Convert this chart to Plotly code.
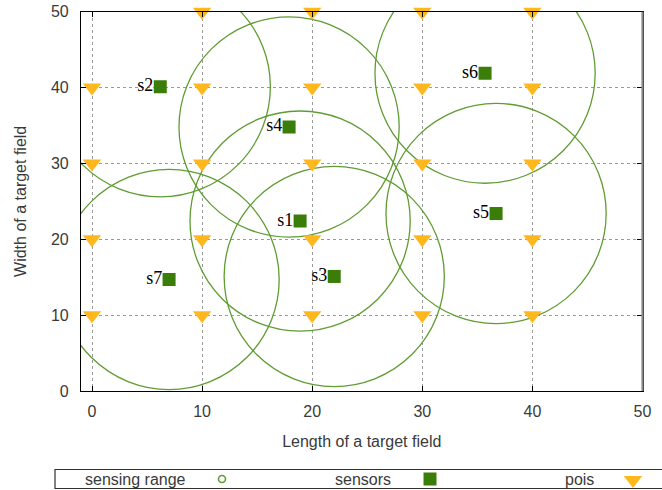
import plotly.graph_objects as go

# ---- data -------------------------------------------------------------
sensor_names = ["s1", "s2", "s3", "s4", "s5", "s6", "s7"]
sensor_x = [18.9, 6.2, 22.0, 17.9, 36.7, 35.7, 7.0]
sensor_y = [22.4, 40.1, 15.1, 34.8, 23.4, 41.9, 14.7]
sensing_radius = 10  # in x-axis units, drawn as a true circle on screen

poi_x = [10, 20, 30, 40,
         0, 10, 20, 30, 40,
         0, 10, 20, 30, 40,
         0, 10, 20, 30, 40,
         0, 10, 20, 30, 40]
poi_y = [50, 50, 50, 50,
         40, 40, 40, 40, 40,
         30, 30, 30, 30, 30,
         20, 20, 20, 20, 20,
         10, 10, 10, 10, 10]

tick_vals = [0, 10, 20, 30, 40, 50]
legend_labels = ["sensing range", "sensors", "pois"]

# ---- layout geometry --------------------------------------------------
W, H = 662, 490
X_RANGE = [-1, 50]
Y_RANGE = [0, 50]
X_DOMAIN = [81 / W, 642.5 / W]
Y_DOMAIN = [(H - 391) / H, (H - 11.7) / H]

px_per_x = (X_DOMAIN[1] - X_DOMAIN[0]) * W / (X_RANGE[1] - X_RANGE[0])
px_per_y = (Y_DOMAIN[1] - Y_DOMAIN[0]) * H / (Y_RANGE[1] - Y_RANGE[0])
ry_scale = px_per_x / px_per_y

CIRCLE_COLOR = "#5f9c32"
SENSOR_COLOR = "#3a7d08"
POI_COLOR = "#FFB71E"
TEXT_COLOR = "#3a3a3a"
SANS = "Liberation Sans, Arial, sans-serif"
SERIF = "Liberation Serif, Times New Roman, serif"

fig = go.Figure()

# points of interest
fig.add_trace(go.Scatter(
    x=poi_x, y=poi_y, mode="markers",
    marker=dict(symbol="triangle-down", size=16, color=POI_COLOR, line=dict(width=0)),
    showlegend=False, cliponaxis=False, hoverinfo="x+y",
))

# sensor labels, set just left of each square (transparent anchor markers)
fig.add_trace(go.Scatter(
    x=sensor_x, y=sensor_y, mode="markers+text",
    text=sensor_names, textposition="middle left",
    textfont=dict(family=SERIF, size=18, color="black"),
    marker=dict(size=9.5, color="rgba(0,0,0,0)"),
    showlegend=False, hoverinfo="skip",
))

# sensors
fig.add_trace(go.Scatter(
    x=sensor_x, y=sensor_y, mode="markers",
    marker=dict(symbol="square", size=13, color=SENSOR_COLOR, line=dict(width=0)),
    showlegend=False, text=sensor_names, hoverinfo="text+x+y",
))

# sensing ranges
shapes = []
for cx, cy in zip(sensor_x, sensor_y):
    ry = sensing_radius * ry_scale
    shapes.append(dict(
        type="circle", xref="x", yref="y",
        x0=cx - sensing_radius, x1=cx + sensing_radius,
        y0=cy - ry, y1=cy + ry,
        line=dict(color=CIRCLE_COLOR, width=1.3),
        layer="between",
    ))

# right border in grey
shapes.append(dict(type="line", xref="x domain", yref="y domain",
                   x0=1, x1=1, y0=0, y1=1,
                   line=dict(color="#8a8a8a", width=2.2), layer="above"))

# legend box
shapes.append(dict(type="rect", xref="paper", yref="paper",
                   x0=55 / W, x1=1.02, y0=(H - 488.5) / H, y1=(H - 469.5) / H,
                   line=dict(color="#303030", width=1.2), fillcolor="rgba(0,0,0,0)"))

# legend keys on an overlay axis measured in pixels from the top
legend_key_x = [222, 430, 633]
legend_key_y = 479
fig.add_trace(go.Scatter(x=[legend_key_x[0]], y=[legend_key_y], xaxis="x2", yaxis="y2",
                         mode="markers", showlegend=False, hoverinfo="skip",
                         marker=dict(symbol="circle-open", size=7, color=CIRCLE_COLOR,
                                     line=dict(width=1.6, color=CIRCLE_COLOR))))
fig.add_trace(go.Scatter(x=[legend_key_x[1]], y=[legend_key_y], xaxis="x2", yaxis="y2",
                         mode="markers", showlegend=False, hoverinfo="skip",
                         marker=dict(symbol="square", size=13, color=SENSOR_COLOR)))
fig.add_trace(go.Scatter(x=[legend_key_x[2]], y=[legend_key_y + 1], xaxis="x2", yaxis="y2",
                         mode="markers", showlegend=False, hoverinfo="skip", cliponaxis=False,
                         marker=dict(symbol="triangle-down", size=16, color=POI_COLOR)))

legend_text_right = [188, 393, 596]
annotations = []
for label, xr in zip(legend_labels, legend_text_right):
    annotations.append(dict(
        text=label, xref="paper", yref="paper",
        x=xr / W, y=(H - 479) / H, xanchor="right", yanchor="middle",
        showarrow=False, font=dict(family=SANS, size=16, color=TEXT_COLOR),
    ))

axis_common = dict(
    tickvals=tick_vals, showgrid=True, gridcolor="#9a9a9a", griddash="dot", gridwidth=1,
    zeroline=False, showline=True, linecolor="black", linewidth=1.2,
    mirror="ticks", ticks="inside", ticklen=5, tickcolor="black",
    tickfont=dict(family=SANS, size=16, color=TEXT_COLOR),
    automargin=False,
)

fig.update_layout(
    template="none",
    width=W, height=H, autosize=False,
    margin=dict(l=0, r=0, t=0, b=0, pad=0),
    paper_bgcolor="white", plot_bgcolor="rgba(0,0,0,0)",
    showlegend=False,
    shapes=shapes, annotations=annotations,
    xaxis=dict(range=X_RANGE, domain=X_DOMAIN, anchor="y",
               title=dict(text="Length of a target field", standoff=16,
                          font=dict(family=SANS, size=16, color=TEXT_COLOR)),
               ticklabelstandoff=6, **axis_common),
    yaxis=dict(range=Y_RANGE, domain=Y_DOMAIN, anchor="x",
               title=dict(text="Width of a target field", standoff=20,
                          font=dict(family=SANS, size=16, color=TEXT_COLOR)),
               ticklabelstandoff=8, **axis_common),
    xaxis2=dict(range=[0, W], domain=[0, 1], anchor="y2", visible=False,
                fixedrange=True, automargin=False),
    yaxis2=dict(range=[H, H - 30], domain=[0, 30 / H], anchor="x2", visible=False,
                fixedrange=True, automargin=False),
)

fig.write_html("out.html")
